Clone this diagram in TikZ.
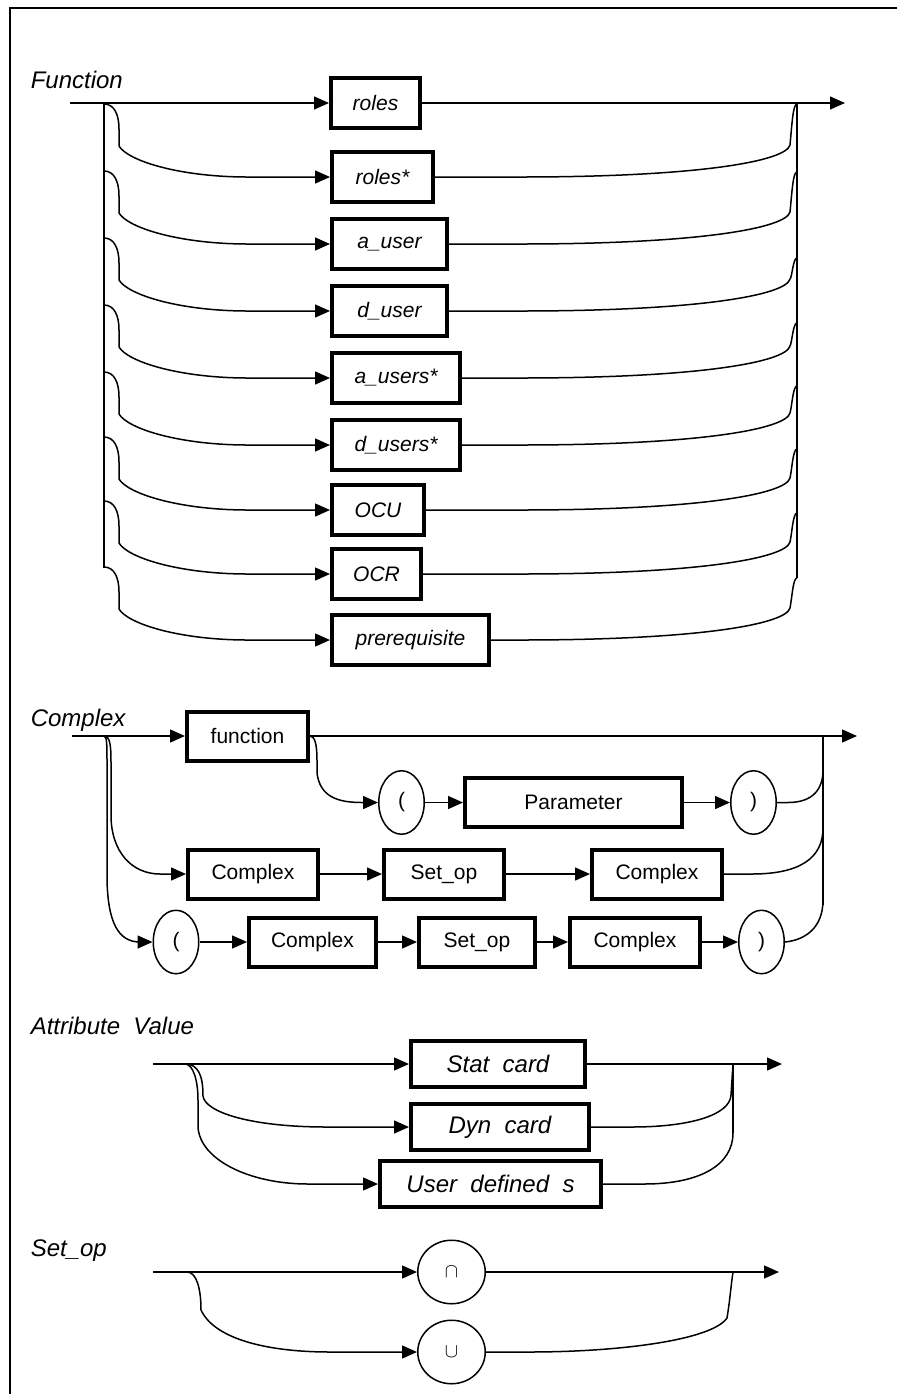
\documentclass[tikz,border=0pt]{standalone}
\usepackage{fontspec}
\setmainfont{Liberation Sans}
\usetikzlibrary{arrows.meta,shapes.geometric}

\begin{document}
\begin{tikzpicture}[x=0.5pt,y=-0.5pt,line width=0.75pt,
    >={Triangle[length=7.5pt,width=6.5pt]},
    wd/.style={minimum width=#1*0.5pt-2pt},
    label node/.style={anchor=base west,inner sep=0pt,font=\fontsize{12}{14}\selectfont\itshape},
    term node/.style={draw,line width=2pt,inner sep=0pt,minimum height=25pt,
                      font=\fontsize{10.5}{12}\selectfont\itshape},
    rule node/.style={draw,line width=2pt,inner sep=0pt,minimum height=24.5pt,
                      font=\fontsize{10.5}{12}\selectfont},
    attr node/.style={draw,line width=2pt,inner sep=0pt,minimum height=23pt,
                      font=\fontsize{12}{14}\selectfont\itshape},
    paren node/.style={ellipse,draw,inner sep=0pt,minimum width=22.75pt,minimum height=31.75pt,
                       font=\fontsize{10.5}{12}\selectfont},
    op node/.style={ellipse,draw,inner sep=0pt,minimum width=33.75pt,minimum height=31.75pt}]

  \useasboundingbox (0,0) rectangle (897,1394);
  \draw[line width=1pt] (10,1394) -- (10,8) -- (897,8);

  % Function
  \node[label node] (lf) at (30,88) {Function};
  \coordinate (fin) at (70,103);
  \coordinate (fout) at (845,103);
  \node[term node,wd=93,anchor=west]  (f1) at (329,103) {roles};
  \node[term node,wd=105,anchor=west] (f2) at (330,177) {roles*};
  \node[term node,wd=119,anchor=west] (f3) at (330,244) {a\_user};
  \node[term node,wd=119,anchor=west] (f4) at (330,311) {d\_user};
  \node[term node,wd=132,anchor=west] (f5) at (330,378) {a\_users*};
  \node[term node,wd=132,anchor=west] (f6) at (330,445) {d\_users*};
  \node[term node,wd=96,anchor=west]  (f7) at (330,510) {OCU};
  \node[term node,wd=93,anchor=west]  (f8) at (330,574) {OCR};
  \node[term node,wd=161,anchor=west] (f9) at (330,640) {prerequisite};

  \draw[->] (fin) -- (f1);
  \draw[->] (f1) -- (fout);
  \draw (104,103) -- (104,568);
  \draw (797,103) -- (797,578);
  \foreach \i/\y/\j in {2/177/104,3/244/172,4/311/258,5/378/323,6/445/386,7/510/449,8/574/513,9/640/578}{
    \draw[->] (104,\y-73) .. controls (114,\y-73) and (119,\y-63) .. (119,\y-48) -- (119,\y-31)
      .. controls (128,\y-16) and (180,\y) .. (248,\y) -- (f\i);
    \draw (f\i) -- (520,\y) .. controls (700,\y) and (786,\y-16) .. (790,\y-32)
      .. controls (792,\j+20) and (793,\j) .. (797,\j);
  }

  % Complex
  \node[label node] (lc) at (30,726) {Complex};
  \coordinate (cin) at (72,736);
  \coordinate (cout) at (857,736);
  \coordinate (cf) at (104,736);
  \node[rule node,wd=125] (c1) at (247.5,736) {function};
  \node[paren node] (p1) at (401.5,802.5) {(};
  \node[rule node,wd=221] (c2) at (573.5,802.5) {Parameter};
  \node[paren node] (p2) at (753.5,802.5) {)};
  \node[rule node,wd=134] (c3) at (253,874) {Complex};
  \node[rule node,wd=124] (c4) at (444,874) {Set\_op};
  \node[rule node,wd=134] (c5) at (657,874) {Complex};
  \node[paren node] (p3) at (176,942) {(};
  \node[rule node,wd=131] (c6) at (312.5,942) {Complex};
  \node[rule node,wd=120] (c7) at (477,942) {Set\_op};
  \node[rule node,wd=134] (c8) at (635,942) {Complex};
  \node[paren node] (p4) at (761.5,942) {)};

  \draw[->] (cin) -- (c1);
  \draw[->] (c1) -- (cout);
  \draw[->] (cf) .. controls (110,736) and (111,745) .. (111,762) -- (111,815)
    .. controls (111,852) and (132,874) .. (160,874) -- (c3);
  \draw[->] (cf) .. controls (107,736) and (107,745) .. (107,762) -- (107,880)
    .. controls (108,922) and (118,942) .. (140,942) -- (p3);
  \draw[->] (c1.east) .. controls (315,736) and (317,745) .. (317,760) -- (317,773)
    .. controls (320,797) and (338,802.5) .. (362,802.5) -- (p1);
  \draw[->] (p1) -- (c2);
  \draw[->] (c2) -- (p2);
  \draw[->] (c3) -- (c4);
  \draw[->] (c4) -- (c5);
  \draw[->] (p3) -- (c6);
  \draw[->] (c6) -- (c7);
  \draw[->] (c7) -- (c8);
  \draw[->] (c8) -- (p4);
  \draw (823,736) -- (823,905);
  \draw (p2) -- (788,802.5) .. controls (812,802.5) and (823,790) .. (823,770);
  \draw (c5) -- (752,874) .. controls (800,874) and (823,858) .. (823,828);
  \draw (p4.east) .. controls (805,940) and (823,928) .. (823,900);

  % Attribute Value
  \node[label node] (la) at (30,1034) {Attribute~ Value};
  \coordinate (ain) at (153,1064);
  \coordinate (aout) at (782,1064);
  \coordinate (af) at (185,1064);
  \node[attr node,wd=178] (a1) at (498,1064) {Stat~ card};
  \node[attr node,wd=182] (a2) at (500,1127) {Dyn~ card};
  \node[attr node,wd=225] (a3) at (490.5,1184) {User~ defined~ s};

  \draw[->] (ain) -- (a1);
  \draw[->] (a1) -- (aout);
  \draw[->] (af) .. controls (198,1064) and (203,1075) .. (203,1096)
    .. controls (205,1112) and (250,1127) .. (327,1127) -- (a2);
  \draw[->] (af) .. controls (193,1064) and (198,1080) .. (198,1100) -- (198,1127)
    .. controls (200,1160) and (250,1184) .. (308,1184) -- (a3);
  \draw (733,1064) -- (733,1133);
  \draw (a2) -- (632,1127) .. controls (690,1127) and (730,1115) .. (731,1095)
    .. controls (732,1080) .. (733,1064);
  \draw (a3) -- (644,1184) .. controls (700,1184) and (733,1165) .. (733,1133);

  % Set_op
  \node[label node] (ls) at (30,1256) {Set\_op};
  \coordinate (sin) at (153,1272);
  \coordinate (sout) at (779,1272);
  \coordinate (sf) at (187,1272);
  \node[op node] (s1) at (451.5,1272) {$\cap$};
  \node[op node] (s2) at (451.5,1352) {$\cup$};

  \draw[->] (sin) -- (s1);
  \draw[->] (s1) -- (sout);
  \draw[->] (sf) .. controls (197,1272) and (201,1290) .. (201,1310)
    .. controls (215,1340) and (270,1352) .. (330,1352) -- (s2);
  \draw (s2) -- (529,1352) .. controls (620,1352) and (712,1340) .. (727,1318)
    .. controls (730,1300) and (731,1285) .. (733,1272);
\end{tikzpicture}
\end{document}
